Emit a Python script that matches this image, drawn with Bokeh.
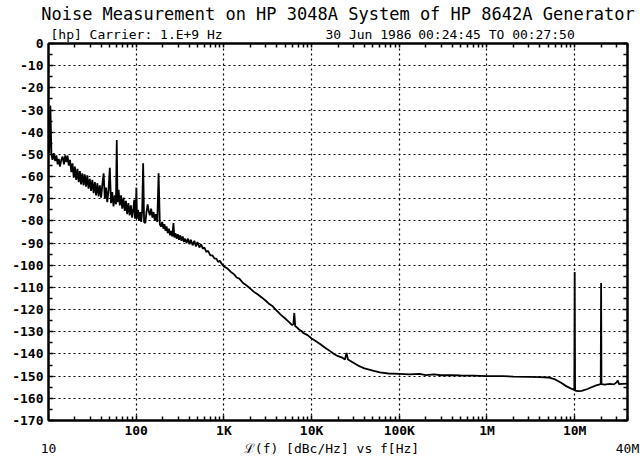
import math
from bokeh.plotting import figure
from bokeh.models import FixedTicker, LinearAxis, LogAxis, Range1d
from bokeh.embed import file_html
from bokeh.resources import INLINE

# ---- data ----
close_in_hz = [10.2, 10.5, 10.8, 11.1, 11.5, 11.9, 12.3, 12.7, 13.1, 13.5, 14.0, 14.5, 15.0, 15.5,
               16.0, 16.5, 17.0, 17.6, 18.2, 18.8, 19.4, 20.0, 20.7, 21.4, 22.1, 22.8, 23.5, 24.3,
               25.1, 25.9, 26.8, 27.7, 28.6, 29.6, 30.6, 31.6, 32.7, 33.8, 34.9, 36.1, 37.3, 38.5,
               39.8, 41.1, 42.5, 43.9, 45.3, 46.8, 48.4, 50.0, 51.6, 53.3, 55.1, 56.9, 58.8, 60.0,
               61.2, 63.0, 65.0, 67.1, 69.3, 71.6, 74.0, 76.4, 78.9, 81.5, 84.2, 87.0, 89.9, 92.8,
               95.0, 97.0, 99.0, 100.5, 102, 105, 108, 111, 114, 117, 120, 123, 127, 131, 135, 139,
               143, 148, 153, 158, 163, 168, 174, 180, 186, 192, 198]
close_in_dbc = [-49.5, -28, -50, -52.5, -49.5, -53, -50.5, -54.5, -52, -55.5, -52.5, -51, -54.5, -50.5,
                -53.5, -50.5, -55, -52.5, -58, -54, -60.5, -55.5, -61.5, -56.5, -62.5, -57.5, -63.5, -58.5,
                -64, -59, -64.5, -59.5, -65.5, -61, -66.5, -61.5, -67.5, -62.5, -68.5, -63, -69, -64,
                -69.5, -63.5, -58.5, -70, -65, -71.5, -66, -56, -72, -67, -73.5, -68.5, -72.5, -43.5,
                -71.5, -66, -73, -68.5, -74.5, -69.5, -75.5, -71, -77, -72, -77.5, -73, -78.5, -74.5,
                -70.5, -79, -75, -65, -79, -75, -80, -76, -80.5, -75.5, -54, -80.5, -81, -76, -72.5, -75.5,
                -77.5, -74.5, -78.5, -76, -80, -77, -80.5, -58.5, -81.5, -82.5, -80.5]

mid_hz = [204, 210, 216, 222, 229, 236, 243, 250, 258, 266, 272, 280, 289, 298, 308, 318, 328, 339,
          350, 362, 375, 390, 405, 420, 440, 460, 480, 500, 525, 550, 575, 600, 630, 660, 700, 740,
          780, 820, 860, 900, 950, 1000, 1050, 1100, 1200, 1300, 1400, 1500, 1650, 1800, 2000, 2200,
          2400, 2700, 3000, 3300, 3600, 4000, 4500, 5000, 5500, 6000, 6200, 6350, 6500, 6800, 7200,
          7600, 8000, 9000, 10000, 11000, 12500, 14000, 16000, 18000, 20000, 22000, 24000, 25000,
          26000, 30000, 35000, 40000, 50000, 60000, 75000, 100000]
mid_dbc = [-83.5, -81.5, -84.5, -82.5, -85.5, -83.5, -86.5, -84.5, -87, -81, -87.5, -85.5, -88, -86, -88.5, -86.5, -89, -87,
           -89.5, -88, -90, -88, -90.5, -88.5, -91, -89, -91.5, -89.5, -92, -90.5, -92.5, -92, -94, -93.5, -95.5, -95.5,
           -97, -97, -98.5, -98, -99.5, -100.5, -101, -101.5, -103, -104, -105.5, -106, -108, -109, -110.5, -112,
           -113, -114.5, -116, -117.5, -118.5, -120.5, -122.5, -124, -125.5, -127, -126.5, -121.5, -127.5, -128, -129,
           -129.5, -130.5, -131.5, -133, -134, -135.5, -137, -138.5, -140, -141, -141.5, -142.5, -139.5,
           -142.5, -144, -145.5, -146.5, -147.5, -148.3, -148.8, -149]

far_hz = [130000, 170000, 200000, 250000, 300000, 400000, 500000, 700000, 1e6, 1.5e6, 2e6, 3e6, 4e6, 5e6,
          6e6, 7e6, 8e6, 9e6, 9.9e6, 1e7, 1.01e7, 1.1e7, 1.2e7, 1.4e7, 1.6e7, 1.8e7, 1.98e7, 2e7, 2.02e7,
          2.2e7, 2.5e7, 2.8e7, 3.0e7, 3.1e7, 3.2e7, 3.5e7, 4.0e7]
far_dbc = [-149.2, -149, -149.5, -149.2, -149.6, -149.5, -149.7, -149.8, -150, -150, -150.2, -150.3, -150.4, -150.6,
           -151.5, -153, -154.5, -155.5, -156.2, -103, -156.5, -156.8, -156.6, -155.8, -154.8, -154, -153.6, -108, -153.6,
           -153.8, -153.5, -153.7, -152.8, -152, -153.6, -153.5, -153.4]

y_ticks = [-170, -160, -150, -140, -130, -120, -110, -100, -90, -80, -70, -60, -50, -40, -30, -20, -10, 0]
y_tick_labels = ["-170", "-160", "-150", "-140", "-130", "-120", "-110", "-100", "-90", "-80",
                 "-70", "-60", "-50", "-40", "-30", "-20", "-10", "0"]
y_minor = [-165, -155, -145, -135, -125, -115, -105, -95, -85, -75, -65, -55, -45, -35, -25, -15, -5]
x_ticks = [100, 1000, 10000, 100000, 1000000, 10000000]
x_tick_labels = ["100", "1K", "10K", "100K", "1M", "10M"]
x_minor = [m * 10 ** k for k in range(1, 8) for m in range(2, 10) if m * 10 ** k <= 4e7]

title_text = "Noise Measurement on HP 3048A System of HP 8642A Generator"
header_fields = ["[hp]  Carrier: 1.E+9 Hz", "30 Jun 1986", "00:24:45 TO 00:27:50"]
x_start, x_stop = 10, 40000000
bottom_texts = ["10", "\u2112(f) [dBc/Hz] vs f[Hz]", "40M"]

freq_hz = close_in_hz + mid_hz + far_hz
noise_dbc = close_in_dbc + mid_dbc + far_dbc

W, H = 640, 458
FONT = "DejaVu Sans Mono"
FRAME_L, FRAME_R = 48, 627

def freq_at_px(px):
    # frequency under a horizontal page position (layout helper for placing text)
    dec = math.log10(x_stop / x_start)
    return x_start * 10 ** ((px - FRAME_L) / (FRAME_R - FRAME_L) * dec)

header_px = [140, 368, 496]    # centres of the header fields
desc_px = 331                  # centre of the x description text

p = figure(width=W, height=H, x_axis_type="log", output_backend="svg", toolbar_location=None,
           x_range=Range1d(x_start, x_stop), y_range=Range1d(-170, 0),
           min_border_left=FRAME_L, min_border_right=W - FRAME_R, min_border_top=43, min_border_bottom=37)
p.background_fill_color = "white"
p.border_fill_color = "white"
p.outline_line_color = "black"
p.outline_line_width = 2

p.line(freq_hz, noise_dbc, color="black", line_width=1.8)

def style_axis(ax):
    ax.axis_line_color = "black"
    ax.axis_line_width = 2
    ax.major_tick_line_color = "black"
    ax.minor_tick_line_color = "black"
    ax.major_tick_line_width = 1.5
    ax.minor_tick_line_width = 1.5
    ax.major_tick_in = 5
    ax.major_tick_out = 0
    ax.minor_tick_in = 4
    ax.minor_tick_out = 0
    ax.major_label_text_font = FONT
    ax.major_label_text_color = "black"
    ax.major_label_text_font_style = "bold"

yl = p.yaxis[0]
yl.ticker = FixedTicker(ticks=y_ticks, minor_ticks=y_minor)
yl.major_label_overrides = {int(v): s for v, s in zip(y_ticks, y_tick_labels)}
style_axis(yl)
yl.major_label_text_font_size = "13px"
yl.major_label_standoff = 5

xl = p.xaxis[0]
xl.ticker = FixedTicker(ticks=x_ticks, minor_ticks=x_minor)
xl.major_label_overrides = {int(v): s for v, s in zip(x_ticks, x_tick_labels)}
style_axis(xl)
xl.major_label_text_font_size = "13px"
xl.major_label_standoff = 2

# second row below: start frequency, axis description, stop frequency
desc_f = round(freq_at_px(desc_px), 3)
bottom_pos = [x_start, desc_f, x_stop]
xb = LogAxis(ticker=FixedTicker(ticks=bottom_pos, minor_ticks=[]))
xb.major_label_overrides = {f: s for f, s in zip(bottom_pos, bottom_texts)}
xb.axis_line_color = None
xb.major_tick_line_color = None
xb.major_tick_in = 0
xb.major_tick_out = 0
xb.major_label_standoff = 0
xb.major_label_text_font = FONT
xb.major_label_text_font_size = "13px"
xb.major_label_text_font_style = "normal"
xb.major_label_text_color = "black"
p.add_layout(xb, "below")

yr = LinearAxis(ticker=FixedTicker(ticks=y_ticks, minor_ticks=y_minor))
style_axis(yr)
yr.major_label_text_alpha = 0
yr.major_label_standoff = 0
yr.major_label_text_font_size = "4px"
p.add_layout(yr, "right")

# top: inner ticks plus the two header lines
header_freqs = [round(freq_at_px(px), 3) for px in header_px]
xt = LogAxis(ticker=FixedTicker(ticks=header_freqs, minor_ticks=x_minor + x_ticks))
style_axis(xt)
xt.major_tick_in = 0
xt.major_tick_line_color = None
xt.major_label_overrides = {f: s for f, s in zip(header_freqs, header_fields)}
xt.major_label_text_font_size = "13px"
xt.major_label_text_font_style = "normal"
xt.major_label_standoff = 2
xt.axis_label = title_text
xt.axis_label_text_font = FONT
xt.axis_label_text_font_size = "17px"
xt.axis_label_text_font_style = "normal"
xt.axis_label_text_color = "black"
xt.axis_label_standoff = 0
p.add_layout(xt, "above")

p.xgrid.ticker = xl.ticker
p.ygrid.ticker = yl.ticker
p.xgrid.grid_line_color = "black"
p.xgrid.grid_line_dash = "2 3"
p.xgrid.grid_line_width = 1.2
p.ygrid.grid_line_color = "black"
p.ygrid.grid_line_dash = "2 3"
p.ygrid.grid_line_width = 1.2

open("out.html", "w").write(file_html(p, INLINE))
